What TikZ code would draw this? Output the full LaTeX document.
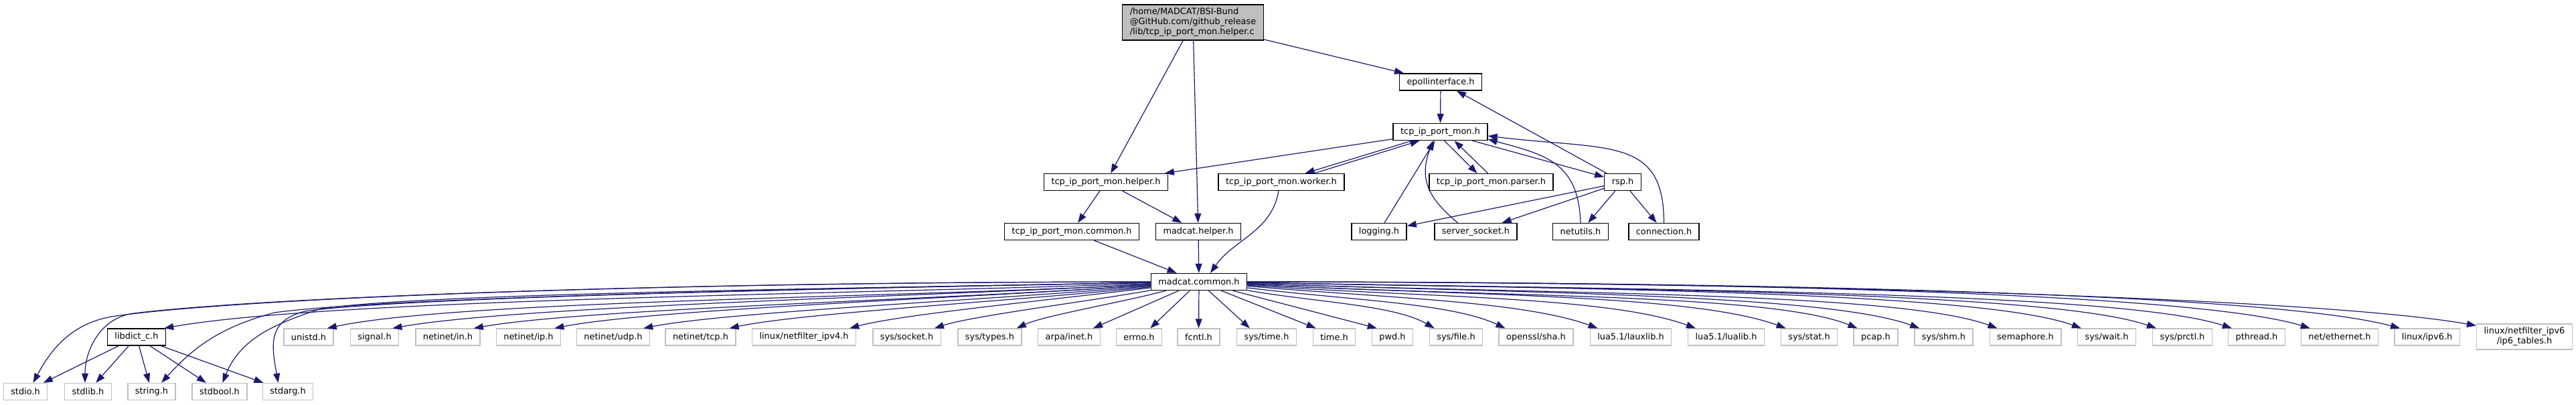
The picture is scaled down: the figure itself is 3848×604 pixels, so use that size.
\documentclass[tikz,border=0pt]{standalone}
\usepackage{fontspec}
\setmainfont{DejaVu Sans}
\usetikzlibrary{arrows.meta,calc}
\definecolor{edgeblue}{RGB}{25,25,112}
\definecolor{sysgray}{RGB}{191,191,191}

\begin{document}
\begin{tikzpicture}[x=0.25pt, y=0.25pt,
    every node/.style={font=\fontsize{3.225}{3.75}\selectfont, inner xsep=2.75pt, inner ysep=1.25pt, minimum height=6.25pt},
    hdr/.style={draw=black, line width=0.35pt, fill=white},
    syshdr/.style={draw=sysgray, line width=0.35pt, fill=white},
    dep/.style={-{Triangle[length=3.5pt,width=2.5pt]}, edgeblue, line width=0.3pt}]
    \useasboundingbox (0,0) rectangle (3848,604);

    % project headers
    \node[hdr, fill=sysgray, align=left] (root) at (1782,570.5) {/home/MADCAT/BSI-Bund\\@GitHub.com/github\_release\\/lib/tcp\_ip\_port\_mon.helper.c};
    \node[hdr] (epoll) at (2152,481.5) {epollinterface.h};
    \node[hdr] (tcpmon) at (2151.5,407) {tcp\_ip\_port\_mon.h};
    \node[hdr] (helperh) at (1652,332) {tcp\_ip\_port\_mon.helper.h};
    \node[hdr] (worker) at (1914,332) {tcp\_ip\_port\_mon.worker.h};
    \node[hdr] (parser) at (2227.5,332) {tcp\_ip\_port\_mon.parser.h};
    \node[hdr] (rsp) at (2424,332) {rsp.h};
    \node[hdr] (common) at (1601,258) {tcp\_ip\_port\_mon.common.h};
    \node[hdr] (mhelper) at (1790,258) {madcat.helper.h};
    \node[hdr] (logging) at (2060,258) {logging.h};
    \node[hdr] (ssock) at (2204.5,258) {server\_socket.h};
    \node[hdr] (netutils) at (2361,258) {netutils.h};
    \node[hdr] (conn) at (2485.5,258) {connection.h};
    \node[hdr] (mcommon) at (1791,183) {madcat.common.h};
    \node[hdr] (libdict) at (204,100.5) {libdict\_c.h};

    % system headers
    \node[syshdr] (unistd) at (461,100.5) {unistd.h};
    \node[syshdr] (signal) at (559.5,100.5) {signal.h};
    \node[syshdr] (netin) at (669,100.5) {netinet/in.h};
    \node[syshdr] (netip) at (789.5,100.5) {netinet/ip.h};
    \node[syshdr] (netudp) at (916,100.5) {netinet/udp.h};
    \node[syshdr] (nettcp) at (1046.5,100.5) {netinet/tcp.h};
    \node[syshdr] (nfipv4) at (1201,100.5) {linux/netfilter\_ipv4.h};
    \node[syshdr] (syssocket) at (1354.5,100.5) {sys/socket.h};
    \node[syshdr] (systypes) at (1478.5,100.5) {sys/types.h};
    \node[syshdr] (arpainet) at (1597,100.5) {arpa/inet.h};
    \node[syshdr] (errno) at (1701.5,100.5) {errno.h};
    \node[syshdr] (fcntl) at (1790.5,100.5) {fcntl.h};
    \node[syshdr] (systime) at (1892,100.5) {sys/time.h};
    \node[syshdr] (time) at (1993,100.5) {time.h};
    \node[syshdr] (pwd) at (2080,100.5) {pwd.h};
    \node[syshdr] (sysfile) at (2175,100.5) {sys/file.h};
    \node[syshdr] (sha) at (2294.5,100.5) {openssl/sha.h};
    \node[syshdr] (lauxlib) at (2436,100.5) {lua5.1/lauxlib.h};
    \node[syshdr] (lualib) at (2578.5,100.5) {lua5.1/lualib.h};
    \node[syshdr] (sysstat) at (2702.5,100.5) {sys/stat.h};
    \node[syshdr] (pcap) at (2802,100.5) {pcap.h};
    \node[syshdr] (sysshm) at (2903.5,100.5) {sys/shm.h};
    \node[syshdr] (sem) at (3025.5,100.5) {semaphore.h};
    \node[syshdr] (syswait) at (3147,100.5) {sys/wait.h};
    \node[syshdr] (prctl) at (3260,100.5) {sys/prctl.h};
    \node[syshdr] (pthread) at (3371,100.5) {pthread.h};
    \node[syshdr] (ether) at (3495,100.5) {net/ethernet.h};
    \node[syshdr] (ipv6) at (3625.5,100.5) {linux/ipv6.h};
    \node[syshdr, align=center] (iptables) at (3771,101) {linux/netfilter\_ipv6\\/ip6\_tables.h};
    \node[syshdr] (stdio) at (38,19) {stdio.h};
    \node[syshdr] (stdlib) at (131.5,19) {stdlib.h};
    \node[syshdr] (string) at (226.5,19) {string.h};
    \node[syshdr] (stdbool) at (328,19) {stdbool.h};
    \node[syshdr] (stdarg) at (430,19) {stdarg.h};

    % includes of the upper part
    \draw[dep] (root) -- (helperh);
    \draw[dep] (root) -- (mhelper);
    \draw[dep] (root) -- (epoll);
    \draw[dep] (epoll) -- (tcpmon);
    \draw[dep] (rsp) -- (epoll);
    \draw[dep] (tcpmon) -- (helperh);
    \draw[dep] ($(tcpmon.south west)+(29,0)$) -- ($(worker.north east)+(-59,0)$);
    \draw[dep] ($(worker.north east)+(-45,0)$) -- ($(tcpmon.south west)+(40,0)$);
    \draw[dep] ($(tcpmon.south)+(6,0)$) -- ($(parser.north)+(-21,0)$);
    \draw[dep] ($(parser.north)+(-5,0)$) -- ($(tcpmon.south)+(21,0)$);
    \draw[dep] (tcpmon) -- (rsp);
    \draw[dep] (logging) -- (tcpmon);
    \draw[dep] ($(ssock.north)+(-27,0)$) to[out=140, in=-110, looseness=1.2] ($(tcpmon.south)+(-11,0)$);
    \draw[dep] (netutils.north) to[out=92, in=-15, out distance=22.5pt, in distance=22.5pt] ($(tcpmon.east)+(0,-11)$);
    \draw[dep] (conn.north) to[out=90, in=-7, out distance=32.5pt, in distance=45pt] ($(tcpmon.east)+(0,-6)$);
    \draw[dep] (rsp) -- (logging);
    \draw[dep] (rsp) -- (ssock);
    \draw[dep] (rsp) -- (netutils);
    \draw[dep] (rsp) -- (conn);
    \draw[dep] (helperh) -- (common);
    \draw[dep] (helperh) -- (mhelper);
    \draw[dep] ($(worker.south)+(-4,0)$) to[out=-100, in=55] ($(mcommon.north)+(17,0)$);
    \draw[dep] (common) -- (mcommon);
    \draw[dep] (mhelper) -- (mcommon);

    % madcat.common.h, to the left
    \draw[dep] (mcommon) -- ($(errno.north east)+(-18,0)$);
    \draw[dep] (mcommon) -- ($(arpainet.north east)+(-11,0)$);
    \draw[dep] (mcommon) to[out=195, in=25, out distance=16pt, in distance=11pt] ($(systypes.north east)+(-8,0)$);
    \draw[dep] (mcommon) to[out=190, in=18, out distance=25pt, in distance=15pt] ($(syssocket.north east)+(-10,0)$);
    \draw[dep] (mcommon) to[out=187, in=15, out distance=35pt, in distance=20pt] ($(nfipv4.north east)+(-10,0)$);
    \draw[dep] (mcommon) to[out=186, in=12, out distance=50pt, in distance=27.5pt] ($(nettcp.north east)+(-10,0)$);
    \draw[dep] (mcommon) to[out=185, in=11, out distance=60pt, in distance=32.5pt] ($(netudp.north east)+(-10,0)$);
    \draw[dep] (mcommon) to[out=184, in=11, out distance=70pt, in distance=37.5pt] ($(netip.north east)+(-10,0)$);
    \draw[dep] (mcommon) to[out=184, in=10, out distance=80pt, in distance=42.5pt] ($(netin.north east)+(-10,0)$);
    \draw[dep] (mcommon) to[out=183, in=10, out distance=90pt, in distance=47.5pt] ($(signal.north east)+(-10,0)$);
    \draw[dep] (mcommon) to[out=183, in=12, out distance=97.5pt, in distance=50pt] ($(unistd.north east)+(-10,0)$);
    \draw[dep] (mcommon) to[out=182, in=10, out distance=117.5pt, in distance=62.5pt] ($(libdict.north east)+(-3,0)$);
    \draw[dep] (mcommon) to[out=181, in=8, out distance=140pt, in distance=35pt] (455,139)
        to[out=195, in=100, looseness=1.3] ($(stdarg.north west)+(24,0)$);
    \draw[dep] (mcommon) to[out=181, in=8, out distance=150pt, in distance=37.5pt] (480,143)
        to[out=198, in=68] ($(stdbool.north west)+(46,0)$);
    \draw[dep] (mcommon) to[out=181, in=8, out distance=150pt, in distance=37.5pt] (410,137)
        to[out=195, in=48] ($(string.north west)+(51,0)$);
    \draw[dep] (mcommon) to[out=180, in=7, out distance=175pt, in distance=50pt] (200,136)
        to[out=187, in=90] ($(stdlib.north west)+(31,0)$);
    \draw[dep] (mcommon) to[out=180, in=8, out distance=175pt, in distance=50pt] (173,132)
        to[out=188, in=62] ($(stdio.north west)+(45,0)$);

    % madcat.common.h, below and to the right
    \draw[dep] (mcommon) -- (fcntl);
    \draw[dep] (mcommon) -- ($(systime.north west)+(20,0)$);
    \draw[dep] (mcommon) -- ($(time.north west)+(5,0)$);
    \draw[dep] (mcommon) -- ($(pwd.north west)+(8,0)$);
    \draw[dep] (mcommon) to[out=-10, in=150, out distance=25pt, in distance=17.5pt] ($(sysfile.north west)+(8,0)$);
    \draw[dep] (mcommon) to[out=-7, in=155, out distance=37.5pt, in distance=22.5pt] ($(sha.north west)+(10,0)$);
    \draw[dep] (mcommon) to[out=-5, in=160, out distance=50pt, in distance=30pt] ($(lauxlib.north west)+(12,0)$);
    \draw[dep] (mcommon) to[out=-4, in=160, out distance=65pt, in distance=35pt] ($(lualib.north west)+(12,0)$);
    \draw[dep] (mcommon) to[out=-3, in=160, out distance=80pt, in distance=37.5pt] ($(sysstat.north west)+(8,0)$);
    \draw[dep] (mcommon) to[out=-3, in=158, out distance=92.5pt, in distance=35pt] ($(pcap.north west)+(6,0)$);
    \draw[dep] (mcommon) to[out=-2, in=160, out distance=102.5pt, in distance=37.5pt] ($(sysshm.north west)+(8,0)$);
    \draw[dep] (mcommon) to[out=-2, in=160, out distance=112.5pt, in distance=40pt] ($(sem.north west)+(12,0)$);
    \draw[dep] (mcommon) to[out=-1, in=160, out distance=125pt, in distance=40pt] ($(syswait.north west)+(6,0)$);
    \draw[dep] (mcommon) to[out=-1, in=161, out distance=137.5pt, in distance=42.5pt] ($(prctl.north west)+(6,0)$);
    \draw[dep] (mcommon) to[out=-1, in=162, out distance=147.5pt, in distance=45pt] ($(pthread.north west)+(6,0)$);
    \draw[dep] (mcommon) to[out=0, in=163, out distance=160pt, in distance=47.5pt] ($(ether.north west)+(14,0)$);
    \draw[dep] (mcommon) to[out=0, in=165, out distance=172.5pt, in distance=52.5pt] ($(ipv6.north west)+(9,0)$);
    \draw[dep] (mcommon) to[out=0, in=170, out distance=182.5pt, in distance=62.5pt] ($(iptables.north west)+(0,-3)$);

    % libdict_c.h
    \draw[dep] (libdict) -- (stdio);
    \draw[dep] (libdict) -- (stdlib);
    \draw[dep] (libdict) -- (string);
    \draw[dep] (libdict) -- (stdbool);
    \draw[dep] (libdict) -- (stdarg);
\end{tikzpicture}
\end{document}
